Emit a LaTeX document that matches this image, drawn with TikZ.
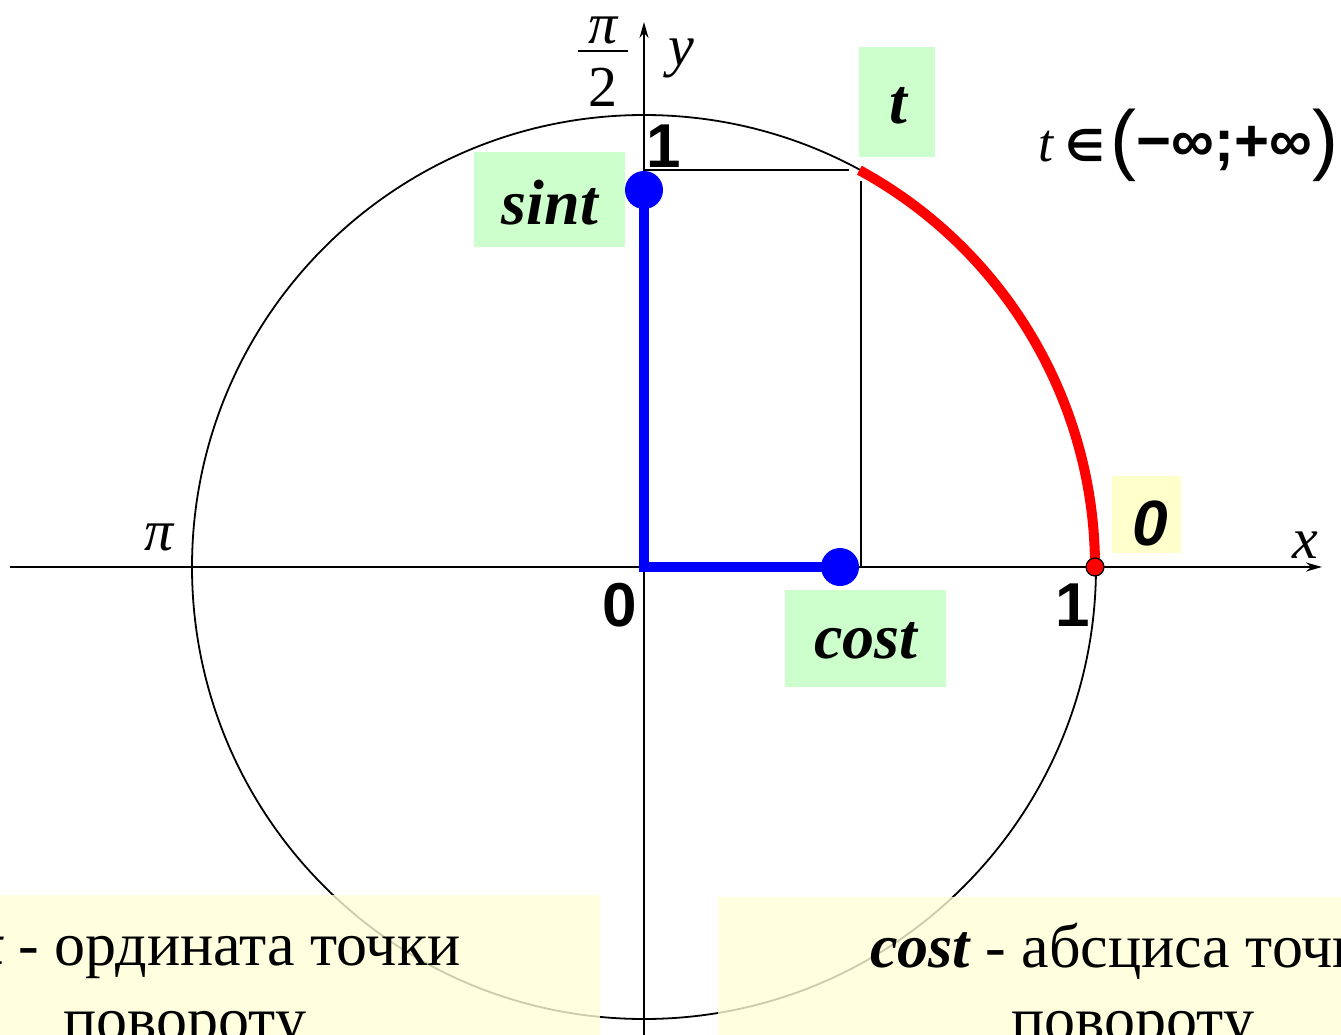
\documentclass[tikz,border=0pt]{standalone}
\usepackage{fontspec}
\setmainfont{Liberation Serif}
\newfontfamily\sansf{Liberation Sans}
\newfontfamily\dejav{DejaVu Sans}
\usetikzlibrary{arrows.meta}
\definecolor{lgreen}{HTML}{CCFFCC}
\definecolor{lyellow}{HTML}{FFFFCC}
\definecolor{pyellow}{HTML}{FFFFD8}
\begin{document}
\begin{tikzpicture}[x=1pt,y=-1pt,
  thin line/.style={draw=black,line width=1.8pt},
  axis/.style={thin line,-{Stealth[length=16pt,width=9pt]}},
  gbox/.style={fill=lgreen,inner sep=0pt},
  ybox/.style={fill=lyellow,inner sep=0pt},
  serlab/.style={font=\fontsize{64}{70}\selectfont\bfseries\itshape,inner sep=0pt},
  numlab/.style={font=\fontsize{62}{66}\selectfont\sansf\bfseries,inner sep=0pt},
  axlab/.style={font=\fontsize{58}{64}\selectfont\itshape,inner sep=0pt},
  bottom/.style={font=\fontsize{62}{75}\selectfont,inner sep=0pt,anchor=base},
  bluepath/.style={draw=blue,line width=10pt},
  bluedot/.style={circle,fill=blue,minimum size=38pt,inner sep=0pt}
]
\useasboundingbox (0,0) rectangle (1341,1035);
\clip (0,0) rectangle (1341,1035);

% coordinates
\coordinate (O) at (644,567);
\coordinate (xs) at (10,567);
\coordinate (xe) at (1322,567);
\coordinate (ys) at (644,1040);
\coordinate (ye) at (644,22);
\coordinate (hA) at (644,170);
\coordinate (hB) at (849,170);
\coordinate (vA) at (861,181);
\coordinate (vB) at (861,567);
\coordinate (P0) at (1095,567);

% circle
\draw[thin line] (O) circle (452);
% axes
\draw[axis] (xs) -- (xe);
\draw[axis] (ys) -- (ye);
% projection lines
\draw[thin line] (hA) -- (hB);
\draw[thin line] (vA) -- (vB);

% red arc
\draw[red,line width=10pt] (P0) arc[start angle=0,end angle=-61.4,radius=452];
\node[circle,fill=red,draw=black,line width=1.2pt,minimum size=18pt,inner sep=0pt] (p0) at (P0) {};

% blue segments
\node[bluedot] (sd) at (644,190) {};
\node[bluedot] (cd) at (840,567) {};
\draw[bluepath] (sd.center) -- (O) -- (cd.center);

% green boxes
\node[gbox,minimum width=151pt,minimum height=95pt] (sb) at (549.5,199.5) {};
\node[serlab] (st) at (550,203) {sint};
\node[gbox,minimum width=76pt,minimum height=110pt] (tb) at (897,102) {};
\node[serlab] (tt) at (898,106) {t};
\node[gbox,minimum width=161pt,minimum height=97pt] (cb) at (865.5,638.5) {};
\node[serlab] (ct) at (866,641) {cost};
\node[ybox,minimum width=69pt,minimum height=77pt] (zb) at (1146.5,514.5) {};
\node[font=\fontsize{64}{70}\selectfont\sansf\bfseries\itshape,inner sep=0pt] (zt) at (1150,523) {0};

% numeric labels
\node[numlab] (one1) at (664,146) {1};
\node[numlab] (zero) at (620,605) {0};
\node[numlab] (one2) at (1073,605) {1};

% axis letters
\node[axlab] (pil) at (159,537) {π};
\node[axlab] (pin) at (603,30) {π};
\draw[line width=2.5pt] (578,51) -- (628,51);
\node[font=\fontsize{58}{64}\selectfont,inner sep=0pt] (two) at (603,87) {2};
\node[axlab] (yl) at (681,58) {y};
\node[axlab] (xl) at (1305,545) {x};

% t in (-inf;+inf)
\node[inner sep=0pt,anchor=base west] (range) at (1038,162)
  {\fontsize{54}{60}\selectfont\itshape t\upshape\hspace{12pt}{\dejav\bfseries\fontsize{44}{44}\selectfont ∈}\hspace{6pt}{\sansf\fontsize{78}{78}\selectfont\raisebox{-4pt}{(}}{\sansf\bfseries\fontsize{60}{60}\selectfont −∞;+∞}{\sansf\fontsize{78}{78}\selectfont\raisebox{-4pt}{)}}};

% bottom boxes
\fill[pyellow,fill opacity=0.8] (0,895) rectangle (600,1040);
\fill[pyellow,fill opacity=0.8] (718,897) rectangle (1345,1040);
\node[bottom] (lb1) at (185,965) {{\bfseries\itshape sint} - ордината точки};
\node[bottom] (lb2) at (185,1040) {повороту};
\node[bottom] (rb1) at (1133,967) {{\bfseries\itshape cost} - абсциса точки};
\node[bottom] (rb2) at (1133,1040) {повороту};
\end{tikzpicture}
\end{document}
